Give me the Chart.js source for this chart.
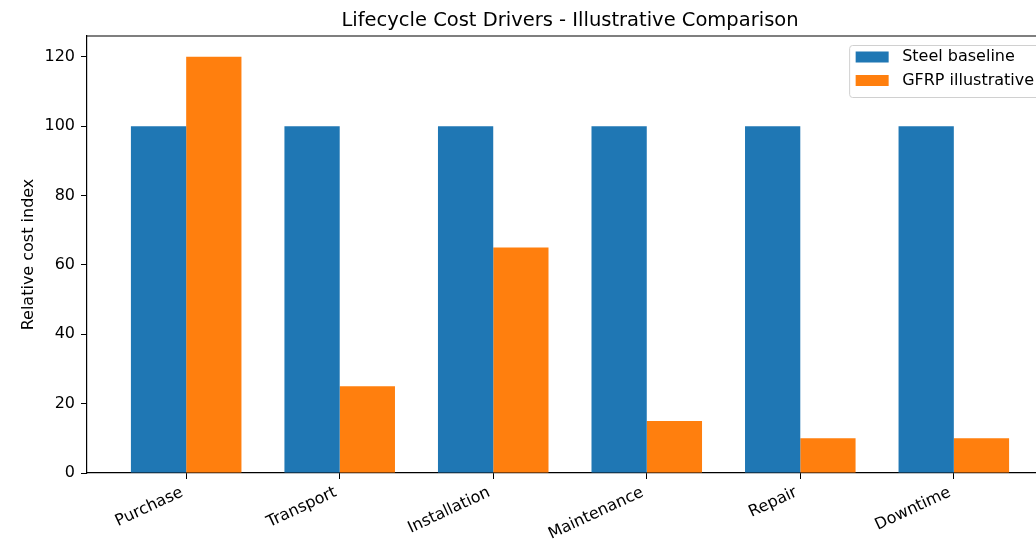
<!DOCTYPE html>
<html>
<head>
<meta charset="utf-8">
<title>Lifecycle Cost Drivers</title>
<script src="https://cdn.jsdelivr.net/npm/chart.js@4"></script>
<style>
    html, body { margin: 0; padding: 0; background: #fff; overflow: hidden; }
    body { width: 1036px; height: 540px; }
    canvas { display: block; }
</style>
</head>
<body>
<canvas id="costChart" width="1140" height="540"></canvas>
<script>
const categories = ['Purchase', 'Transport', 'Installation', 'Maintenance', 'Repair', 'Downtime'];
const steelBaseline = [100, 100, 100, 100, 100, 100];
const gfrpIllustrative = [120, 25, 65, 15, 10, 10];
const yTicks = [0, 20, 40, 60, 80, 100, 120];

document.addEventListener("DOMContentLoaded", function () {
    const font = "'DejaVu Sans', sans-serif";

    // top/right spines and the framed legend, matplotlib style
    const framePlugin = {
        id: 'frame',
        afterDraw(chart) {
            const ctx = chart.ctx;
            const area = chart.chartArea;
            ctx.save();
            ctx.strokeStyle = '#000';
            ctx.lineWidth = 1.2;
            ctx.beginPath();
            ctx.moveTo(area.left, area.top);
            ctx.lineTo(area.right, area.top);
            ctx.lineTo(area.right, area.bottom);
            ctx.stroke();

            ctx.font = `16px ${font}`;
            const sets = chart.data.datasets;
            const textW = Math.max(...sets.map(d => ctx.measureText(d.label).width));
            const w = 6.4 + 32 + 13.6 + textW + 6.4;
            const h = 52;
            const x = area.right - 13.5 - w;
            const y = area.top + 9;
            ctx.fillStyle = 'rgba(255,255,255,0.8)';
            ctx.strokeStyle = '#d0d0d0';
            ctx.lineWidth = 1;
            ctx.beginPath();
            ctx.roundRect(x + 0.5, y + 0.5, w, h, 3);
            ctx.fill();
            ctx.stroke();
            ctx.textBaseline = 'middle';
            ctx.textAlign = 'left';
            sets.forEach((d, i) => {
                const cy = y + 12 + i * 23.5;
                ctx.fillStyle = d.backgroundColor;
                ctx.fillRect(x + 6.5, cy - 5.5, 33, 11);
                ctx.fillStyle = '#000';
                ctx.fillText(d.label, x + 53, cy);
            });
            ctx.restore();
        }
    };

    Chart.defaults.color = '#000';
    Chart.defaults.font.family = font;
    Chart.defaults.font.size = 16;

    new Chart(document.getElementById('costChart'), {
        type: 'bar',
        data: {
            datasets: [{
                label: 'Steel baseline',
                data: categories.map((c, i) => ({ x: i, y: steelBaseline[i] })),
                backgroundColor: '#1f77b4',
                borderWidth: 0
            }, {
                label: 'GFRP illustrative',
                data: categories.map((c, i) => ({ x: i, y: gfrpIllustrative[i] })),
                backgroundColor: '#ff7f0e',
                borderWidth: 0
            }]
        },
        options: {
            responsive: false,
            animation: false,
            devicePixelRatio: 1,
            categoryPercentage: 0.72,
            barPercentage: 1.0,
            layout: { padding: 0 },
            plugins: {
                legend: { display: false },
                tooltip: { enabled: false },
                title: {
                    display: true,
                    text: 'Lifecycle Cost Drivers - Illustrative Comparison',
                    font: { size: 19.5, weight: 'normal' },
                    color: '#000',
                    padding: { top: 8.8, bottom: 3.8 }
                }
            },
            scales: {
                x: {
                    type: 'linear',
                    min: -0.646,
                    max: 5.646,
                    offset: false,
                    grid: { display: true, drawOnChartArea: false, tickLength: 6, tickColor: '#000', offset: false },
                    border: { display: true, color: '#000', width: 1.2 },
                    ticks: {
                        stepSize: 1,
                        includeBounds: false,
                        autoSkip: false,
                        minRotation: 25,
                        maxRotation: 25,
                        padding: 4,
                        labelOffset: -4,
                        callback: v => categories[v]
                    },
                    afterBuildTicks: scale => {
                        scale.ticks = categories.map((c, i) => ({ value: i }));
                    },
                    afterFit: scale => { scale.height = 67; }
                },
                y: {
                    min: 0,
                    max: 126,
                    grid: { display: true, drawOnChartArea: false, tickLength: 6, tickColor: '#000' },
                    border: { display: true, color: '#000', width: 1.2 },
                    ticks: { stepSize: 20, includeBounds: false, padding: 6 },
                    afterBuildTicks: scale => {
                        scale.ticks = yTicks.map(v => ({ value: v }));
                    },
                    title: {
                        display: true,
                        text: 'Relative cost index',
                        font: { size: 16 },
                        padding: { top: 19.4, bottom: 0 }
                    },
                    afterFit: scale => { scale.width = 87; }
                },
                // empty right-hand axis, only to balance the margin so the title centres on the plot
                yRight: {
                    type: 'linear',
                    position: 'right',
                    display: true,
                    grid: { display: false },
                    border: { display: false },
                    ticks: { display: false },
                    afterFit: scale => { scale.width = 87; }
                }
            }
        },
        plugins: [framePlugin]
    });
});
</script>
</body>
</html>
